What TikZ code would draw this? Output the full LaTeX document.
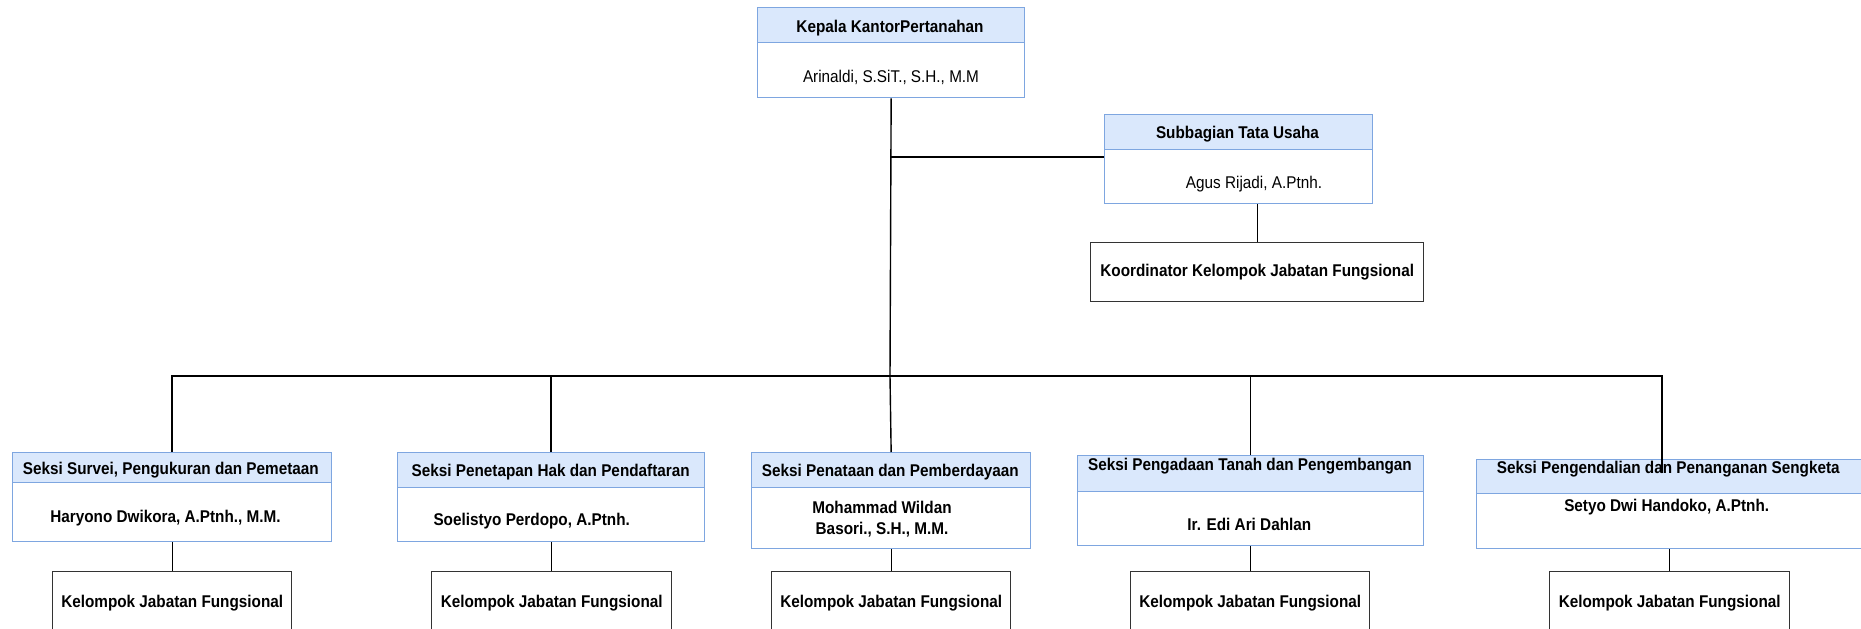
\documentclass[tikz,border=0pt]{standalone}
\usepackage{fontspec}
\setmainfont[FakeStretch=0.9]{Liberation Sans}
\definecolor{hfill}{HTML}{DAE8FC}
\definecolor{hdraw}{HTML}{7EA6E0}
\definecolor{kdraw}{HTML}{333333}
\begin{document}
\begin{tikzpicture}[x=1pt,y=-1pt,
  box/.style={draw=hdraw, line width=1.3pt, inner sep=0pt, anchor=north west},
  hd/.style={box, fill=hfill},
  bd/.style={box, fill=white},
  kjf/.style={draw=kdraw, line width=1.4pt, inner sep=0pt, anchor=north west, fill=white,
    font=\fontsize{17}{20}\selectfont\bfseries},
  txt/.style={anchor=base, inner sep=0pt, font=\fontsize{17}{20}\selectfont\bfseries},
  txtr/.style={anchor=base, inner sep=0pt, font=\fontsize{17}{20}\selectfont},
  link/.style={draw=black, line width=1.4pt}]
\useasboundingbox (0,0) rectangle (1861,629);
\clip (0,0) rectangle (1861,629);

% top box
\node[hd, minimum width=267pt, minimum height=35pt] (th) at (757,7) {};
\node[bd, minimum width=267pt, minimum height=55pt] (tb) at (757,42) {};
\node[txt] (tht) at (890,32) {Kepala KantorPertanahan};
\node[txtr] (tbt) at (891,82.3) {Arinaldi, S.SiT., S.H., M.M};

% subbagian
\node[hd, minimum width=268pt, minimum height=35pt] (sh) at (1104,114) {};
\node[bd, minimum width=268pt, minimum height=54pt] (sb) at (1104,149) {};
\node[txt] (sht) at (1237.5,138.3) {Subbagian Tata Usaha};
\node[txtr] (sbt) at (1254,188.3) {Agus Rijadi, A.Ptnh.};

% koordinator
\node[kjf, minimum width=333pt, minimum height=59pt] (ko) at (1090,242) {Koordinator Kelompok Jabatan Fungsional};

% seksi boxes
\node[hd, minimum width=319pt, minimum height=30pt] (b1h) at (12,452) {};
\node[bd, minimum width=319pt, minimum height=59pt] (b1b) at (12,482) {};
\node[txt] (b1t) at (170.8,474) {Seksi Survei, Pengukuran dan Pemetaan};
\node[txt] (b1n) at (165.5,522.7) {Haryono Dwikora, A.Ptnh., M.M.};

\node[hd, minimum width=307pt, minimum height=35pt] (b2h) at (397,452) {};
\node[bd, minimum width=307pt, minimum height=54pt] (b2b) at (397,487) {};
\node[txt] (b2t) at (550.7,476.7) {Seksi Penetapan Hak dan Pendaftaran};
\node[txt] (b2n) at (531.7,525) {Soelistyo Perdopo, A.Ptnh.};

\node[hd, minimum width=279pt, minimum height=35pt] (b3h) at (751,452) {};
\node[bd, minimum width=279pt, minimum height=61pt] (b3b) at (751,487) {};
\node[txt] (b3t) at (890.3,476) {Seksi Penataan dan Pemberdayaan};
\node[txt, anchor=center, align=center, font=\fontsize{17}{21}\selectfont\bfseries] (b3n) at (882,519.5) {Mohammad Wildan\\Basori., S.H., M.M.};

\node[hd, minimum width=346pt, minimum height=36pt] (b4h) at (1077,455) {};
\node[bd, minimum width=346pt, minimum height=54pt] (b4b) at (1077,491) {};
\node[txt] (b4t) at (1250,470) {Seksi Pengadaan Tanah dan Pengembangan};
\node[txt] (b4n) at (1249.3,530) {Ir. Edi Ari Dahlan};

\node[hd, minimum width=395pt, minimum height=34pt] (b5h) at (1476,459) {};
\node[bd, minimum width=395pt, minimum height=55pt] (b5b) at (1476,493) {};
\node[txt] (b5t) at (1668.3,473.3) {Seksi Pengendalian dan Penanganan Sengketa};
\node[txt] (b5n) at (1666.7,511.7) {Setyo Dwi Handoko, A.Ptnh.};

% kelompok boxes
\node[kjf, minimum width=239pt, minimum height=62pt] (l1) at (52,571) {Kelompok Jabatan Fungsional};
\node[kjf, minimum width=240pt, minimum height=62pt] (l2) at (431,571) {Kelompok Jabatan Fungsional};
\node[kjf, minimum width=239pt, minimum height=62pt] (l3) at (771,571) {Kelompok Jabatan Fungsional};
\node[kjf, minimum width=239pt, minimum height=62pt] (l4) at (1130,571) {Kelompok Jabatan Fungsional};
\node[kjf, minimum width=240pt, minimum height=62pt] (l5) at (1549,571) {Kelompok Jabatan Fungsional};

% connectors
\coordinate (bus) at (890,376);
\coordinate (br) at (890,157);
\coordinate (d5) at (1662,376);
\coordinate (d5e) at (1662,473);
\draw[link] (tb.south) -- (bus);
\draw[link] (br) -- (br -| sb.west);
\draw[link] (ko.north) -- (ko.north |- sb.south);
\draw[link] (b1h.north) |- (d5) -- (d5e);
\draw[link] (b2h.north) -- (b2h.north |- bus);
\draw[link] (bus) -- (b3h.north);
\draw[link] (b4h.north) -- (b4h.north |- bus);
\draw[link] (l1.north) -- (l1.north |- b1b.south);
\draw[link] (l2.north) -- (l2.north |- b2b.south);
\draw[link] (l3.north) -- (l3.north |- b3b.south);
\draw[link] (l4.north) -- (l4.north |- b4b.south);
\draw[link] (l5.north) -- (l5.north |- b5b.south);
\end{tikzpicture}
\end{document}
